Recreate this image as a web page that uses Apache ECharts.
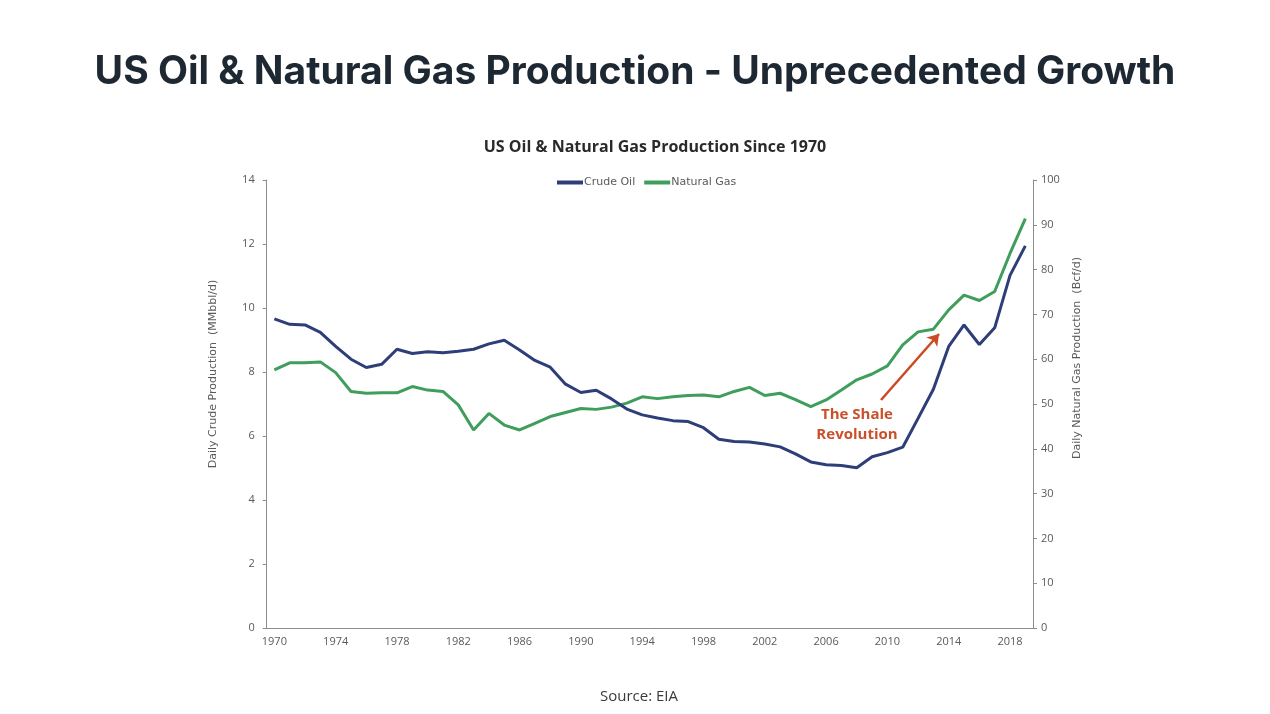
<!DOCTYPE html>
<html>
<head>
<meta charset="utf-8">
<script src="https://cdn.jsdelivr.net/npm/echarts@6/dist/echarts.min.js"></script>
<style>
html,body{margin:0;padding:0;background:#fff;}
#chart{width:1270px;height:714px;}
</style>
</head>
<body>
<div id="chart"></div>
<script>
const years = [];
for (let y = 1970; y <= 2019; y++) years.push(String(y));

const crudeOil = [
  9.66, 9.49, 9.47, 9.24, 8.80, 8.40, 8.14, 8.24, 8.71, 8.58,
  8.63, 8.60, 8.65, 8.71, 8.88, 8.99, 8.69, 8.36, 8.15, 7.62,
  7.36, 7.43, 7.16, 6.84, 6.66, 6.56, 6.48, 6.45, 6.26, 5.90,
  5.83, 5.81, 5.75, 5.66, 5.44, 5.19, 5.10, 5.08, 5.01, 5.35,
  5.48, 5.65, 6.55, 7.46, 8.80, 9.47, 8.86, 9.38, 11.02, 11.94
];

const naturalGas = [
  57.6, 59.2, 59.2, 59.4, 57.0, 52.8, 52.4, 52.5, 52.5, 53.9,
  53.1, 52.8, 49.8, 44.2, 47.9, 45.3, 44.2, 45.7, 47.2, 48.1,
  49.0, 48.8, 49.3, 50.2, 51.6, 51.2, 51.6, 51.9, 52.0, 51.6,
  52.8, 53.7, 51.9, 52.4, 51.0, 49.4, 50.9, 53.1, 55.4, 56.7,
  58.5, 63.2, 66.1, 66.7, 71.0, 74.3, 73.1, 75.1, 83.6, 91.4
];

const oilTicks = { min: 0, max: 14, interval: 2 };
const gasTicks = { min: 0, max: 100, interval: 10 };

const chart = echarts.init(document.getElementById('chart'));
const axisGray = '#8c8c8c';
const labelGray = '#5a5a5a';
const tickFont = 'Open Sans';

chart.setOption({
  backgroundColor: '#ffffff',
  animation: false,
  title: [
    {
      text: 'US Oil & Natural Gas Production - Unprecedented Growth',
      left: 'center',
      top: 48,
      textStyle: { fontFamily: 'Inter', fontWeight: 'bold', fontSize: 39, color: '#1e2833' }
    },
    {
      text: 'US Oil & Natural Gas Production Since 1970',
      left: 650, textAlign: 'center',
      top: 134,
      textStyle: { fontFamily: 'Open Sans', fontWeight: 'bold', fontSize: 16, color: '#2a2a2a' }
    },
    {
      text: 'Source: EIA',
      left: 634, textAlign: 'center',
      top: 684,
      textStyle: { fontFamily: 'Open Sans', fontWeight: 'normal', fontSize: 15, color: '#3a3a3a' }
    }
  ],
  legend: {
    top: 172,
    left: 552,
    itemWidth: 26,
    itemHeight: 4,
    itemGap: 9,
    icon: 'rect',
    textStyle: { fontFamily: 'DejaVu Sans', fontSize: 11, color: labelGray, padding: [0,0,0,-4] },
    data: ['Crude Oil', 'Natural Gas']
  },
  grid: { left: 266.7, right: 237, top: 180, bottom: 86 },
  xAxis: {
    type: 'category',
    data: years,
    boundaryGap: true,
    axisLine: { lineStyle: { color: axisGray, width: 1 } },
    axisTick: { interval: 0, length: 4, lineStyle: { color: axisGray } },
    axisLabel: { interval: 3, color: labelGray, fontFamily: tickFont, fontSize: 11, margin: 8 }
  },
  yAxis: [
    {
      type: 'value',
      min: oilTicks.min, max: oilTicks.max, interval: oilTicks.interval,
      axisLine: { show: true, lineStyle: { color: axisGray } },
      axisTick: { show: true, length: 4, lineStyle: { color: axisGray } },
      axisLabel: { color: labelGray, fontFamily: tickFont, fontSize: 11, margin: 12 },
      splitLine: { show: false }
    },
    {
      type: 'value',
      min: gasTicks.min, max: gasTicks.max, interval: gasTicks.interval,
      axisLine: { show: true, lineStyle: { color: axisGray } },
      axisTick: { show: true, length: 4, lineStyle: { color: axisGray } },
      axisLabel: { color: labelGray, fontFamily: tickFont, fontSize: 11, margin: 8 },
      splitLine: { show: false }
    }
  ],
  series: [
    {
      name: 'Crude Oil',
      type: 'line',
      yAxisIndex: 0,
      data: crudeOil,
      symbol: 'none',
      color: '#2d3e78',
      lineStyle: { width: 3, color: '#2d3e78' },
      z: 3,
      markLine: {
        silent: true,
        symbol: ['none', 'arrow'],
        symbolSize: 11,
        label: { show: false },
        lineStyle: { color: '#cc4a22', width: 2.5, type: 'solid' },
        data: [[{ x: 881, y: 400 }, { x: 939, y: 334 }]]
      }
    },
    {
      name: 'Natural Gas',
      type: 'line',
      yAxisIndex: 1,
      data: naturalGas,
      symbol: 'none',
      color: '#3f9e5b',
      lineStyle: { width: 3, color: '#3f9e5b' },
      z: 2
    }
  ],
  graphic: [
    {
      type: 'text',
      x: 857, y: 405,
      style: {
        text: 'The Shale\nRevolution',
        fill: '#c9502a',
        font: 'bold 15px "Open Sans"',
        align: 'center',
        lineHeight: 20
      }
    },
    {
      type: 'text',
      x: 213, y: 374,
      rotation: Math.PI / 2,
      style: {
        text: 'Daily Crude Production  (MMbbl/d)',
        fill: labelGray,
        font: '11px "DejaVu Sans"',
        align: 'center',
        verticalAlign: 'middle'
      }
    },
    {
      type: 'text',
      x: 1077, y: 358,
      rotation: Math.PI / 2,
      style: {
        text: 'Daily Natural Gas Production  (Bcf/d)',
        fill: labelGray,
        font: '11px "DejaVu Sans"',
        align: 'center',
        verticalAlign: 'middle'
      }
    }
  ]
});
</script>
</body>
</html>
